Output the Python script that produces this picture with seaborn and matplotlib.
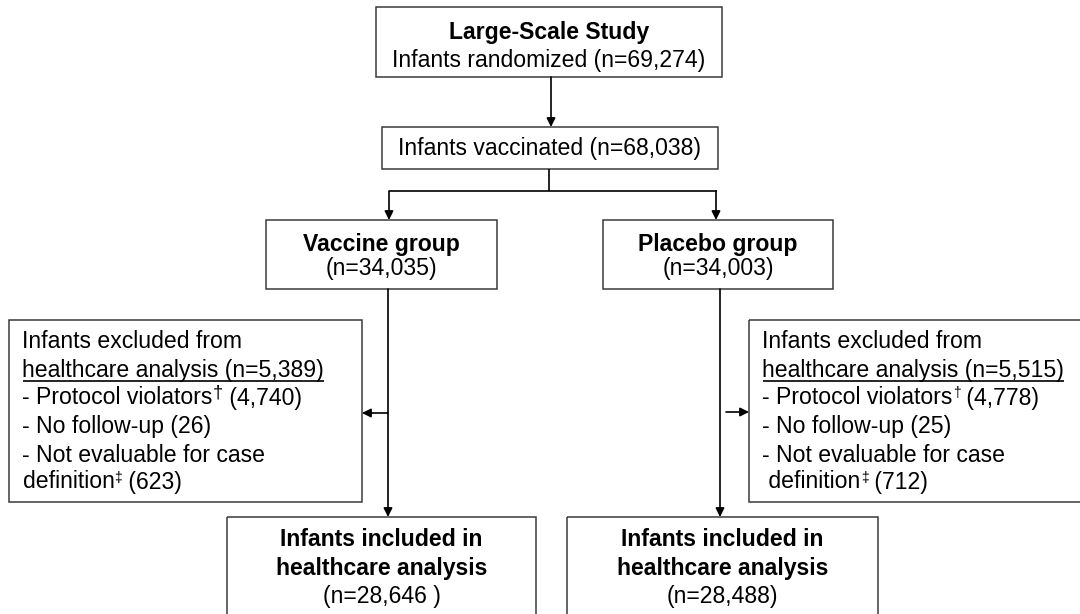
import matplotlib
matplotlib.use("Agg")
import matplotlib.pyplot as plt
from matplotlib.patches import Rectangle
import seaborn as sns

randomized = 69274
vaccinated = 68038
group_names = ["Vaccine group", "Placebo group"]
group_n = [34035, 34003]
excluded_n = [5389, 5515]
protocol_violators = [4740, 4778]
no_follow_up = [26, 25]
not_evaluable = [623, 712]
included_n = [28646, 28488]
included_pad = [" ", ""]

sns.set_theme(style="white", rc={"text.color": "black"})
plt.rcParams["font.family"] = ["Liberation Sans", "DejaVu Sans"]

FS = 16.6  # ~23 px

fig = plt.figure(figsize=(10.8, 6.14), dpi=100)
ax = fig.add_axes([0, 0, 1, 1])
ax.set_xlim(0, 1080)
ax.set_ylim(614, 0)
ax.axis("off")
renderer = fig.canvas.get_renderer()

BOX_EC = "#3a3a3a"
LINE = "black"


def box(x0, y0, x1, y1):
    ax.add_patch(Rectangle((x0, y0), x1 - x0, y1 - y0, fill=False,
                           ec=BOX_EC, lw=1.1, clip_on=True))


def arrow(x0, y0, x1, y1):
    ax.annotate("", xy=(x1, y1), xytext=(x0, y0),
                arrowprops=dict(arrowstyle="-|>", color=LINE, lw=1.2,
                                mutation_scale=13, shrinkA=0, shrinkB=0))


def line(xs, ys):
    ax.plot(xs, ys, color=LINE, lw=1.2, solid_capstyle="butt")


def runs(x, y, parts):
    for txt, size, dy in parts:
        t = ax.text(x, y + dy, txt, fontsize=size, va="center", ha="left")
        x += t.get_window_extent(renderer=renderer).width
    return x


# top boxes
box(376, 7, 722, 77)
ax.text(549, 32, "Large-Scale Study", fontsize=FS, fontweight="bold", ha="center", va="center")
ax.text(549, 60, f"Infants randomized (n={randomized:,})", fontsize=FS, ha="center", va="center")
arrow(551, 77, 551, 127)

box(382, 127, 718, 169)
ax.text(550, 148, f"Infants vaccinated (n={vaccinated:,})", fontsize=FS, ha="center", va="center")
line([549, 549], [169, 191])
line([388.5, 716.5], [191, 191])
arrow(389, 191, 389, 220)
arrow(716, 191, 716, 220)

# group boxes
group_boxes = [(266, 220, 497, 289), (603, 220, 833, 289)]
for (x0, y0, x1, y1), name, n in zip(group_boxes, group_names, group_n):
    box(x0, y0, x1, y1)
    cx = (x0 + x1) / 2
    ax.text(cx, 244, name, fontsize=FS, fontweight="bold", ha="center", va="center")
    ax.text(cx, 268, f"(n={n:,})", fontsize=FS, ha="center", va="center")

# trunks and side arrows
trunk_x = [388, 720]
for tx in trunk_x:
    arrow(tx, 289, tx, 517)
arrow(388, 413, 362, 413)
arrow(726, 412, 749, 412)

# exclusion boxes
excl_boxes = [(9, 320, 362, 502), (749, 320, 1085, 502)]
dagger_size = [FS * 0.8, FS * 0.6]
dagger_dy = [-5, -5]
lead = ["", " "]
line_y = [342, 370, 398, 427, 455, 482]
for i, (x0, y0, x1, y1) in enumerate(excl_boxes):
    box(x0, y0, x1, y1)
    tx = x0 + 13.5
    ax.text(tx, line_y[0], "Infants excluded from", fontsize=FS, va="center")
    t = ax.text(tx, line_y[1], f"healthcare analysis (n={excluded_n[i]:,})", fontsize=FS, va="center")
    w = t.get_window_extent(renderer=renderer).width
    line([tx, tx + w], [line_y[1] + 11, line_y[1] + 11])
    runs(tx, line_y[2], [("- Protocol violators", FS, 0),
                         ("\u2020", dagger_size[i], dagger_dy[i]),
                         (f" ({protocol_violators[i]:,})", FS, 0)])
    ax.text(tx, line_y[3], f"- No follow-up ({no_follow_up[i]})", fontsize=FS, va="center")
    ax.text(tx, line_y[4], "- Not evaluable for case", fontsize=FS, va="center")
    runs(tx, line_y[5], [(lead[i] + "definition", FS, 0),
                         ("\u2021", FS * 0.6, -4),
                         (f" ({not_evaluable[i]})", FS, 0)])

# included boxes
inc_boxes = [(227, 517, 536, 640), (567, 517, 878, 640)]
for (x0, y0, x1, y1), n, pad in zip(inc_boxes, included_n, included_pad):
    box(x0, y0, x1, y1)
    cx = (x0 + x1) / 2
    ax.text(cx, 540, "Infants included in", fontsize=FS, fontweight="bold",
            ha="center", va="center")
    ax.text(cx, 568, "healthcare analysis", fontsize=FS, fontweight="bold",
            ha="center", va="center")
    ax.text(cx, 597, f"(n={n:,}{pad})", fontsize=FS, ha="center", va="center")

fig.savefig("out.png", dpi=100, facecolor="white")
